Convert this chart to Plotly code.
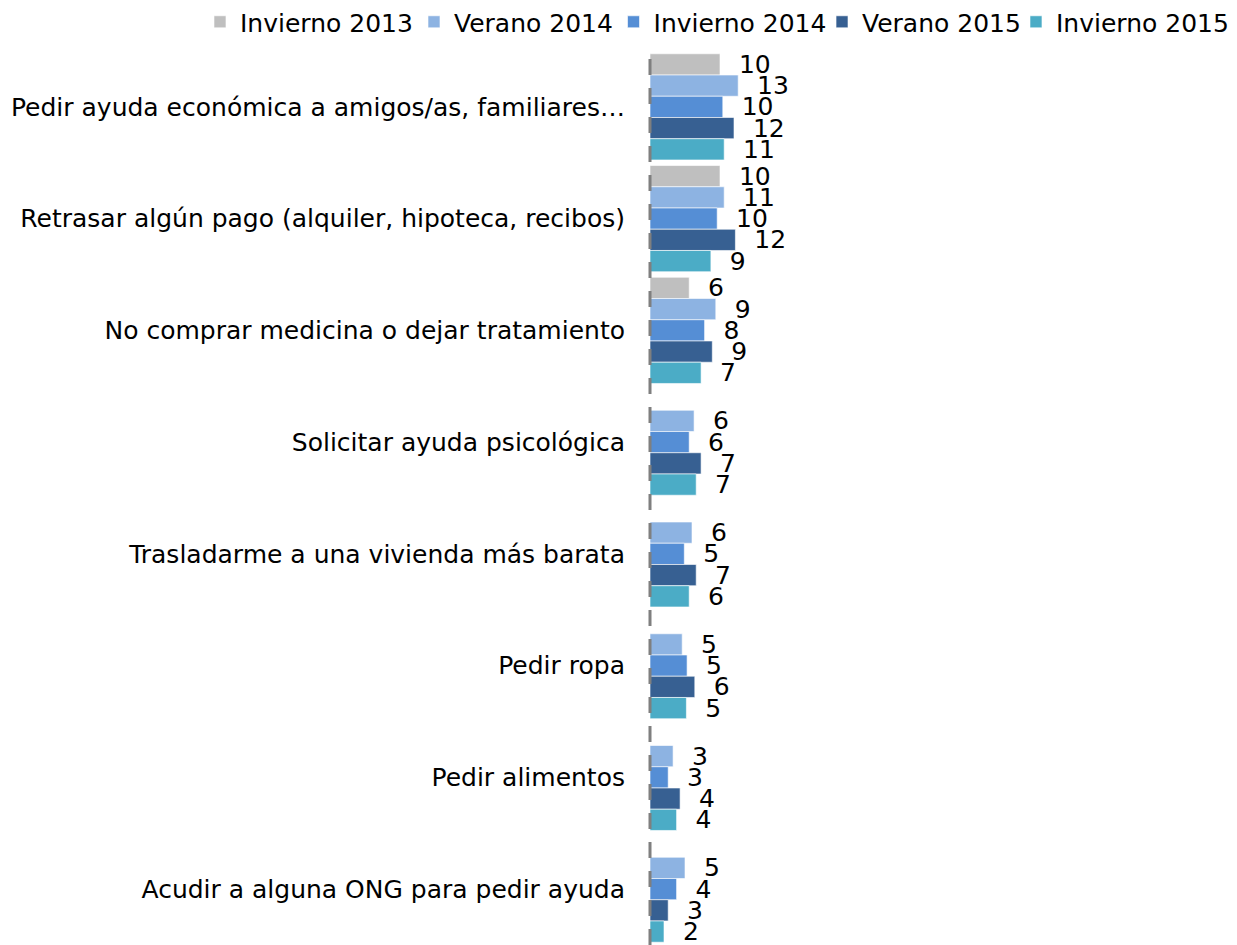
import plotly.graph_objects as go

categories = [
    "Pedir ayuda económica a amigos/as, familiares…",
    "Retrasar algún pago (alquiler, hipoteca, recibos)",
    "No comprar medicina o dejar tratamiento",
    "Solicitar ayuda psicológica",
    "Trasladarme a una vivienda más barata",
    "Pedir ropa",
    "Pedir alimentos",
    "Acudir a alguna ONG para pedir ayuda",
]

series_names = ["Invierno 2013", "Verano 2014", "Invierno 2014", "Verano 2015", "Invierno 2015"]

invierno_2013 = [10.0, 10.0, 5.6, None, None, None, None, None]
verano_2014 = [12.6, 10.6, 9.4, 6.3, 6.0, 4.6, 3.3, 5.0]
invierno_2014 = [10.4, 9.6, 7.8, 5.6, 4.9, 5.3, 2.6, 3.8]
verano_2015 = [12.0, 12.2, 8.9, 7.3, 6.6, 6.4, 4.3, 2.6]
invierno_2015 = [10.6, 8.7, 7.3, 6.6, 5.6, 5.2, 3.8, 2.0]

labels_invierno_2013 = ["10", "10", "6", "", "", "", "", ""]
labels_verano_2014 = ["13", "11", "9", "6", "6", "5", "3", "5"]
labels_invierno_2014 = ["10", "10", "8", "6", "5", "5", "3", "4"]
labels_verano_2015 = ["12", "12", "9", "7", "7", "6", "4", "3"]
labels_invierno_2015 = ["11", "9", "7", "7", "6", "5", "4", "2"]

values = [invierno_2013, verano_2014, invierno_2014, verano_2015, invierno_2015]
labels = [labels_invierno_2013, labels_verano_2014, labels_invierno_2014,
          labels_verano_2015, labels_invierno_2015]
colors = ["#BFBFBF", "#8DB3E2", "#558ED5", "#376092", "#4BACC6"]

FONT = "'DejaVu Sans', sans-serif"
FS = 25

# one legend box per series, laid out in a single row across the top
legend_ids = ["legend", "legend2", "legend3", "legend4", "legend5"]
legend_x = [-0.7759, -0.4069, -0.0629, 0.2966, 0.6310]

fig = go.Figure()
for name, vals, labs, col, lid in zip(series_names, values, labels, colors, legend_ids):
    fig.add_trace(go.Bar(
        name=name,
        y=categories,
        x=vals,
        orientation="h",
        text=labs,
        texttemplate="\u00a0\u00a0%{text}",
        textposition="outside",
        constraintext="none",
        textfont=dict(family=FONT, size=FS, color="#000000"),
        marker=dict(color=col, line=dict(color="rgba(255,255,255,0.6)", width=1)),
        hoverinfo="skip",
        legend=lid,
    ))

fig.add_shape(
    type="line", xref="paper", yref="paper", x0=0, x1=0, y0=0, y1=1,
    line=dict(color="#7F7F7F", width=3, dash="16px,13px"), layer="above",
)

legend_style = dict(
    orientation="h",
    xanchor="left",
    y=1.0324, yanchor="middle",
    font=dict(family=FONT, size=FS, color="#000000"),
    itemclick=False,
    bgcolor="rgba(0,0,0,0)",
)

layout_legends = {}
for lid, lx in zip(legend_ids, legend_x):
    layout_legends[lid] = dict(legend_style, x=lx)

fig.update_layout(
    width=1237,
    height=945,
    barmode="group",
    bargap=0.05,
    bargroupgap=0,
    plot_bgcolor="white",
    paper_bgcolor="white",
    margin=dict(l=650, r=7, t=51, b=0, autoexpand=False),
    font=dict(family=FONT, size=FS, color="#000000"),
    showlegend=True,
    xaxis=dict(
        range=[0, 82.86],
        showgrid=False, zeroline=False, showline=False,
        showticklabels=False, ticks="", automargin=False,
    ),
    yaxis=dict(
        autorange="reversed",
        showgrid=False, zeroline=False, showline=False,
        ticks="", ticklabelstandoff=24, automargin=False,
        tickfont=dict(family=FONT, size=FS, color="#000000"),
    ),
    **layout_legends,
)

fig.write_html(
    "out.html",
    config={"displayModeBar": False},
    post_script="document.body.style.margin='0';",
)
